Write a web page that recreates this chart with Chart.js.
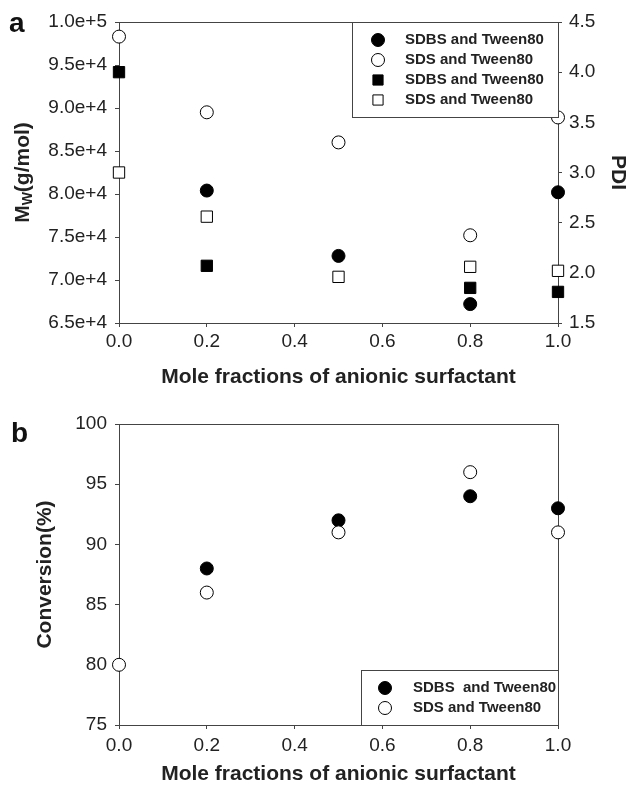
<!DOCTYPE html>
<html>
<head>
<meta charset="utf-8">
<script src="https://cdn.jsdelivr.net/npm/chart.js@4/dist/chart.umd.min.js"></script>
<style>
  body { margin: 0; background: #fff; }
  .wrap { position: absolute; left: 0; width: 629px; }
</style>
</head>
<body>
<div class="wrap" style="top:0;height:390px"><canvas id="chartA"></canvas></div>
<div class="wrap" style="top:390px;height:395px"><canvas id="chartB"></canvas></div>
<script>
// mole fraction of anionic surfactant
const fractions = [0.0, 0.2, 0.5, 0.8, 1.0];

// panel a: Mw (left axis) and PDI (right axis)
const mwSDBS = [null, 80400, 72800, 67200, 80200];
const mwSDS = [98300, 89500, 86000, 75200, 88900];
const pdiSDBS = [4.0, 2.07, null, 1.85, 1.81];
const pdiSDS = [3.0, 2.56, 1.96, 2.06, 2.02];

// panel b: conversion
const convSDBS = [null, 88, 92, 94, 93];
const convSDS = [80, 86, 91, 96, 91];

const legendA = ["SDBS and Tween80", "SDS and Tween80", "SDBS and Tween80", "SDS and Tween80"];
const legendB = ["SDBS  and Tween80", "SDS and Tween80"];
const xTitle = "Mole fractions of anionic surfactant";

const FONT = "'Liberation Sans', Arial, sans-serif";
const INK = "#222";
const AXIS = "#444";

Chart.defaults.font.family = FONT;
Chart.defaults.color = INK;

function toPoints(ys) {
  return fractions
    .map((x, i) => ({ x: x, y: ys[i] }))
    .filter((p) => p.y !== null);
}

function marker(label, ys, style, filled, axis, order) {
  const r = style === "rect" ? 8 : 6.5;
  return {
    label: label,
    data: toPoints(ys),
    yAxisID: axis,
    showLine: false,
    clip: false,
    order: order,
    pointStyle: style,
    pointRadius: r,
    pointHoverRadius: r,
    pointBorderWidth: 1,
    pointBorderColor: "#000",
    pointBackgroundColor: filled ? "#000" : "#fff",
    legendRadius: style === "rect" ? 7.2 : 6.5,
  };
}

// scientific notation like 9.5e+4
function sci(v) {
  const e = Math.floor(Math.log10(v) + 1e-9);
  return (v / Math.pow(10, e)).toFixed(1) + "e+" + e;
}

const tickFont = { size: 19 };
const titleFont = { size: 21, weight: "bold", lineHeight: 1 };
const gridOpts = { drawOnChartArea: false, tickLength: 4, color: AXIS };

// box round the plot area
const frame = {
  id: "frame",
  beforeDatasetsDraw(chart) {
    const { ctx, chartArea } = chart;
    ctx.save();
    ctx.strokeStyle = AXIS;
    ctx.lineWidth = 1;
    ctx.strokeRect(
      Math.round(chartArea.left) + 0.5,
      Math.round(chartArea.top) + 0.5,
      Math.round(chartArea.right - chartArea.left),
      Math.round(chartArea.bottom - chartArea.top)
    );
    ctx.restore();
  },
};

// legend drawn inside the plot, in a white box
const boxLegend = {
  id: "boxLegend",
  afterDraw(chart, args, opts) {
    const { ctx, chartArea } = chart;
    const left = Math.round(chartArea.right - opts.width);
    const top = Math.round(
      opts.anchor === "top" ? chartArea.top : chartArea.bottom - opts.height
    );
    ctx.save();
    ctx.fillStyle = "#fff";
    ctx.fillRect(left, top, opts.width, opts.height);
    ctx.strokeStyle = AXIS;
    ctx.lineWidth = 1;
    ctx.strokeRect(left + 0.5, top + 0.5, opts.width, opts.height);
    chart.data.datasets.forEach((ds, i) => {
      const y = top + opts.firstRow + i * opts.rowGap;
      ctx.fillStyle = ds.pointBackgroundColor;
      ctx.strokeStyle = ds.pointBorderColor;
      ctx.lineWidth = 1;
      Chart.helpers.drawPoint(
        ctx,
        { pointStyle: ds.pointStyle, radius: ds.legendRadius, borderWidth: 1, rotation: 0 },
        left + opts.markerX,
        y
      );
      ctx.fillStyle = INK;
      ctx.font = "bold 15px " + FONT;
      ctx.textBaseline = "middle";
      ctx.textAlign = "left";
      ctx.fillText(opts.labels[i], left + opts.textX, y);
    });
    ctx.restore();
  },
};

// panel letter a / b
const panelLetter = {
  id: "panelLetter",
  afterDraw(chart, args, opts) {
    const { ctx } = chart;
    ctx.save();
    ctx.fillStyle = "#111";
    ctx.font = "bold 28px " + FONT;
    ctx.textBaseline = "alphabetic";
    ctx.fillText(opts.text, opts.x, opts.y);
    ctx.restore();
  },
};

// left title of panel a, M with subscript W
const mwTitle = {
  id: "mwTitle",
  afterDraw(chart, args, opts) {
    const { ctx, chartArea } = chart;
    const big = "bold 21px " + FONT;
    const small = "bold 14px " + FONT;
    ctx.save();
    ctx.fillStyle = INK;
    ctx.textBaseline = "middle";
    ctx.font = big;
    const wM = ctx.measureText("M").width;
    const wRest = ctx.measureText("(g/mol)").width;
    ctx.font = small;
    const wW = ctx.measureText("W").width;
    const total = wM + wW + wRest;
    ctx.translate(opts.x, (chartArea.top + chartArea.bottom) / 2);
    ctx.rotate(-Math.PI / 2);
    let start = -total / 2;
    ctx.font = big;
    ctx.fillText("M", start, 0);
    ctx.font = small;
    ctx.fillText("W", start + wM, 5);
    ctx.font = big;
    ctx.fillText("(g/mol)", start + wM + wW, 0);
    ctx.restore();
  },
};

function xScale(height, padding, titlePad) {
  return {
    type: "linear",
    min: 0,
    max: 1,
    afterFit: (s) => { s.height = height; },
    ticks: { stepSize: 0.2, padding: padding, font: tickFont, callback: (v) => v.toFixed(1) },
    grid: gridOpts,
    border: { color: AXIS },
    title: { display: true, text: xTitle, font: titleFont, padding: { top: 0, bottom: titlePad } },
  };
}

window.addEventListener("load", () => {
  new Chart(document.getElementById("chartA"), {
    type: "scatter",
    data: {
      datasets: [
        marker(legendA[0], mwSDBS, "circle", true, "y", 1),
        marker(legendA[1], mwSDS, "circle", false, "y", 2),
        marker(legendA[2], pdiSDBS, "rect", true, "y1", 3),
        marker(legendA[3], pdiSDS, "rect", false, "y1", 4),
      ],
    },
    options: {
      responsive: true,
      maintainAspectRatio: false,
      animation: false,
      events: [],
      layout: { padding: { top: 22, left: 0, right: 0, bottom: 0 } },
      plugins: {
        legend: { display: false },
        tooltip: { enabled: false },
        boxLegend: { labels: legendA, anchor: "top", width: 206, height: 95, firstRow: 18, rowGap: 20, markerX: 26, textX: 53 },
        panelLetter: { text: "a", x: 9, y: 32 },
        mwTitle: { x: 23 },
      },
      scales: {
        x: xScale(67, 3, 2),
        y: {
          position: "left",
          min: 65000,
          max: 100000,
          afterFit: (s) => { s.width = 119; },
          ticks: { stepSize: 5000, padding: 8, font: tickFont, callback: sci },
          grid: gridOpts,
          border: { color: AXIS },
        },
        y1: {
          position: "right",
          min: 1.5,
          max: 4.5,
          afterFit: (s) => { s.width = 71; },
          ticks: { stepSize: 0.5, padding: 7, font: tickFont, callback: (v) => v.toFixed(1) },
          grid: gridOpts,
          border: { color: AXIS },
          title: { display: true, text: "PDI", font: titleFont, padding: { top: 1 } },
        },
      },
    },
    plugins: [frame, boxLegend, panelLetter, mwTitle],
  });

  new Chart(document.getElementById("chartB"), {
    type: "scatter",
    data: {
      datasets: [
        marker(legendB[0], convSDBS, "circle", true, "y", 2),
        marker(legendB[1], convSDS, "circle", false, "y", 1),
      ],
    },
    options: {
      responsive: true,
      maintainAspectRatio: false,
      animation: false,
      events: [],
      layout: { padding: { top: 34, left: 0, right: 71, bottom: 0 } },
      plugins: {
        legend: { display: false },
        tooltip: { enabled: false },
        boxLegend: { labels: legendB, anchor: "bottom", width: 197, height: 55, firstRow: 18, rowGap: 20, markerX: 24, textX: 52 },
        panelLetter: { text: "b", x: 11, y: 52 },
      },
      scales: {
        x: xScale(60, 5, 0),
        y: {
          position: "left",
          min: 75,
          max: 100,
          afterFit: (s) => { s.width = 119; },
          ticks: { stepSize: 5, padding: 8, font: tickFont },
          grid: gridOpts,
          border: { color: AXIS },
          title: { display: true, text: "Conversion(%)", font: titleFont, padding: { top: 35 } },
        },
      },
    },
    plugins: [frame, boxLegend, panelLetter],
  });
});
</script>
</body>
</html>
